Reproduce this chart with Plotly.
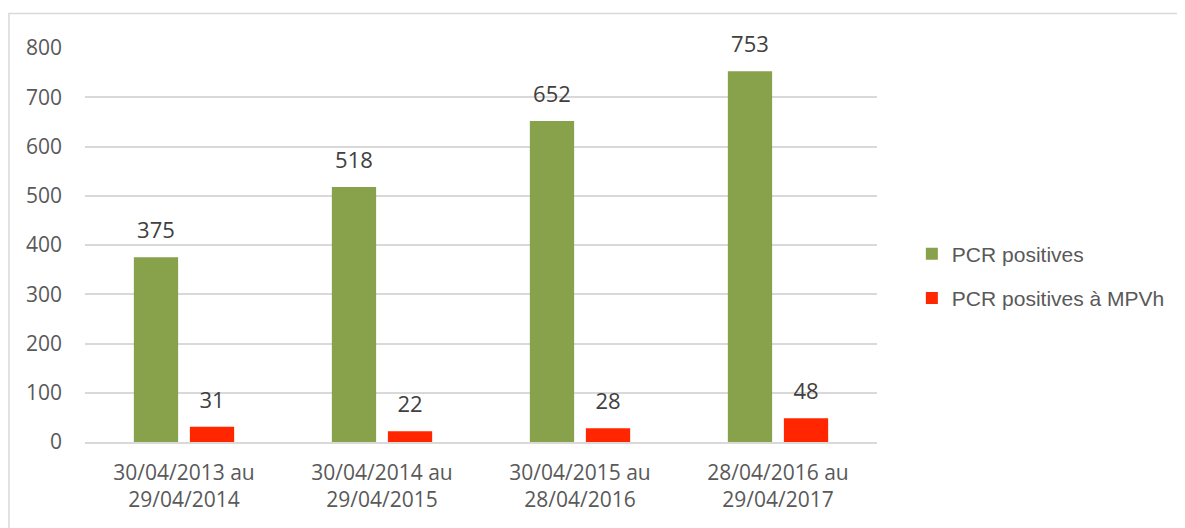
import plotly.graph_objects as go

categories = ["30/04/2013 au<br>29/04/2014", "30/04/2014 au<br>29/04/2015",
              "30/04/2015 au<br>28/04/2016", "28/04/2016 au<br>29/04/2017"]
pcr_positives = [375, 518, 652, 753]
pcr_mpvh = [31, 22, 28, 48]
series_names = ["PCR positives", "PCR positives à MPVh"]
colors = ["#88A14B", "#FF2600"]
y_ticks = [0, 100, 200, 300, 400, 500, 600, 700, 800]

fig = go.Figure()
for i, (name, vals, col) in enumerate(zip(series_names, [pcr_positives, pcr_mpvh], colors)):
    fig.add_trace(go.Bar(
        x=categories, y=vals, name=name, marker_color=col,
        marker_line_width=0,
        text=[f"<span style='font-size:22px'>{v}</span><br> " for v in vals],
        textposition="outside",
        textfont=dict(family="Open Sans, sans-serif", size=10, color="#404040"),
        cliponaxis=False, legendgroup=f"g{i}",
    ))

fig.update_layout(
    width=1177, height=520,
    paper_bgcolor="white", plot_bgcolor="white",
    margin=dict(l=77, r=308, t=40, b=86),
    barmode="group", bargap=0.434, bargroupgap=0.21,
    showlegend=True,
    legend=dict(x=1.044, y=0.421, yanchor="middle", xanchor="left",
                bgcolor="rgba(0,0,0,0)", borderwidth=0,
                font=dict(family="Liberation Sans, Arial, sans-serif", size=21, color="#595959"),
                traceorder="grouped", tracegroupgap=14, itemwidth=30),
    uniformtext=dict(minsize=1, mode="show"),
)
fig.update_xaxes(showgrid=False, showline=True, linecolor="#D9D9D9", linewidth=1.5,
                 ticks="", tickfont=dict(family="Open Sans, sans-serif", size=21, color="#595959"),
                 ticklabelstandoff=11)
fig.update_yaxes(range=[0, 800], tickvals=y_ticks, showgrid=True, gridcolor="#D9D9D9",
                 gridwidth=1.5, zeroline=False, showline=False, ticks="",
                 tickfont=dict(family="Open Sans, sans-serif", size=21, color="#595959"),
                 ticklabelstandoff=22)

fig.add_shape(type="rect", xref="paper", yref="paper",
              x0=-0.096, x1=1.40, y0=-0.3, y1=1.0876,
              line=dict(color="#D9D9D9", width=1.5), fillcolor="rgba(0,0,0,0)", layer="below")

fig.write_html("out.html")
